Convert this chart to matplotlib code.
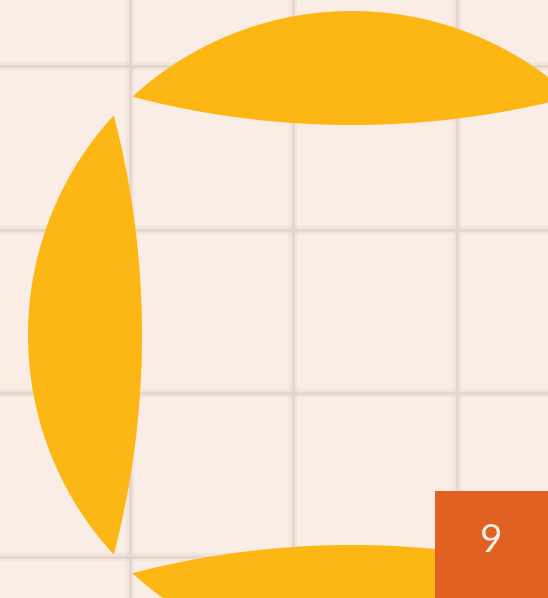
import numpy as np
import matplotlib
matplotlib.use("Agg")
import matplotlib.pyplot as plt
from matplotlib.patches import Polygon, Rectangle

# canvas in pixel units (y grows downward)
W, H = 548, 598

# grid line positions
grid_x = [129.5, 293.0, 456.5]
grid_y = [66.0, 229.5, 393.0, 556.5]

# four lens "petals" around one centre: direction angles in degrees
petal_angles = [90, 180, 270, 0]
centre = (352.0, 335.0)
outer_r = 324.0      # outer arc radius about the centre
inner_apex = 210.0   # distance from centre to the inner arc apex
inner_r = 868.0      # radius of the inner (flatter) arc

page_label = "9"

BG = "#F9EDE6"
GRID = "#E4D5CE"
YELLOW = "#FDB715"
ORANGE = "#E06122"


def petal(ax, ang_deg):
    u = np.array([np.cos(np.radians(ang_deg)), -np.sin(np.radians(ang_deg))])
    c = np.array(centre)
    d = inner_apex + inner_r
    # where the two arcs meet
    x = (d ** 2 - inner_r ** 2 + outer_r ** 2) / (2 * d)
    half = np.arccos(x / outer_r)
    base = np.arctan2(u[1], u[0])
    t = np.linspace(base - half, base + half, 200)
    outer = c + outer_r * np.column_stack([np.cos(t), np.sin(t)])
    c2 = c + d * u
    half2 = np.arcsin(outer_r * np.sin(half) / inner_r)
    t2 = np.linspace(base + np.pi - half2, base + np.pi + half2, 200)
    inner = c2 + inner_r * np.column_stack([np.cos(t2), np.sin(t2)])
    pts = np.vstack([outer, inner])
    ax.add_patch(Polygon(pts, closed=True, facecolor=YELLOW, edgecolor="none", zorder=3))


fig = plt.figure(figsize=(W / 100, H / 100), dpi=100)
fig.patch.set_facecolor(BG)
ax = fig.add_axes([0, 0, 1, 1])
ax.set_xlim(0, W)
ax.set_ylim(H, 0)
ax.set_facecolor(BG)
ax.axis("off")

for gx in grid_x:
    ax.axvline(gx, color=GRID, lw=6, alpha=0.3, zorder=1)
    ax.axvline(gx, color=GRID, lw=2.0, zorder=1)
for gy in grid_y:
    ax.axhline(gy, color=GRID, lw=6, alpha=0.3, zorder=1)
    ax.axhline(gy, color=GRID, lw=2.0, zorder=1)

for a in petal_angles:
    petal(ax, a)

ax.add_patch(Rectangle((435, 491), W - 435, H - 491, facecolor=ORANGE,
                       edgecolor="none", zorder=5))
ax.text(491, 541, page_label, ha="center", va="center", fontsize=28,
        color=BG, family=["Lato", "DejaVu Sans"], zorder=6)

fig.savefig("out.png", dpi=100, facecolor=BG)
